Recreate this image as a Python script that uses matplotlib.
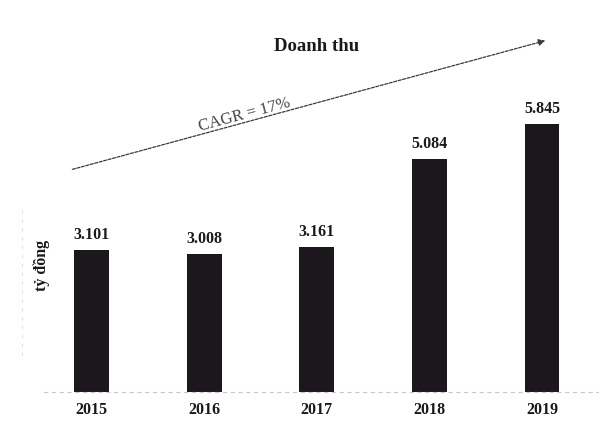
import matplotlib
matplotlib.use('Agg')
import matplotlib.pyplot as plt

years = ['2015', '2016', '2017', '2018', '2019']
revenue = [3.101, 3.008, 3.161, 5.084, 5.845]
value_labels = ['3.101', '3.008', '3.161', '5.084', '5.845']

plt.rcParams['font.family'] = ['Liberation Serif', 'DejaVu Serif']

fig = plt.figure(figsize=(6.1, 4.24), dpi=100)
ax = fig.add_axes([0.036, 0.0755, 0.954, 0.865])

x = list(range(len(years)))
bars = ax.bar(x, revenue, width=0.31, color='#1c171c', zorder=2)

for b, lab in zip(bars, value_labels):
    ax.annotate(lab, (b.get_x() + b.get_width() / 2, b.get_height()),
                xytext=(0, 5), textcoords='offset points',
                ha='center', va='bottom', fontsize=11.5, fontweight='bold',
                color='#1a1a1a')

ax.set_xlim(-0.62, 4.55)
ax.set_ylim(0, 8)
ax.set_xticks(x)
ax.set_xticklabels(years, fontsize=11.5, fontweight='bold', color='#1a1a1a')
ax.tick_params(axis='x', length=0, pad=7)
ax.set_yticks([])

for s in ['top', 'right']:
    ax.spines[s].set_visible(False)
ax.spines['left'].set_color('#e2e2e2')
ax.spines['left'].set_linestyle((0, (2, 6)))
ax.spines['left'].set_bounds(0.8, 4.0)
ax.spines['bottom'].set_color('#c8c8c8')
ax.spines['bottom'].set_linestyle((0, (3, 4)))
ax.spines['bottom'].set_linewidth(0.8)
ax.spines['bottom'].set_bounds(-0.42, 4.5)

ax.text(-0.445, 2.77, 'tỷ đồng', rotation=90, ha='center', va='center',
        fontsize=11.5, fontweight='bold', color='#1a1a1a')

# title and CAGR trend arrow
ax.text(2.0, 7.54, 'Doanh thu', ha='center', va='center',
        fontsize=13.5, fontweight='bold', color='#1a1a1a')
ax.annotate('', xy=(4.053, 7.68), xytext=(-0.196, 4.84),
            arrowprops=dict(arrowstyle='-|>', color='#3a3a3a', lw=0.9,
                            linestyle=(0, (2.5, 1.2)), mutation_scale=10),
            annotation_clip=False)
ax.text(1.36, 6.05, 'CAGR = 17%', rotation=15, ha='center', va='center',
        fontsize=12, color='#444444', rotation_mode='anchor')

fig.savefig('out.png', dpi=100, facecolor='white')
